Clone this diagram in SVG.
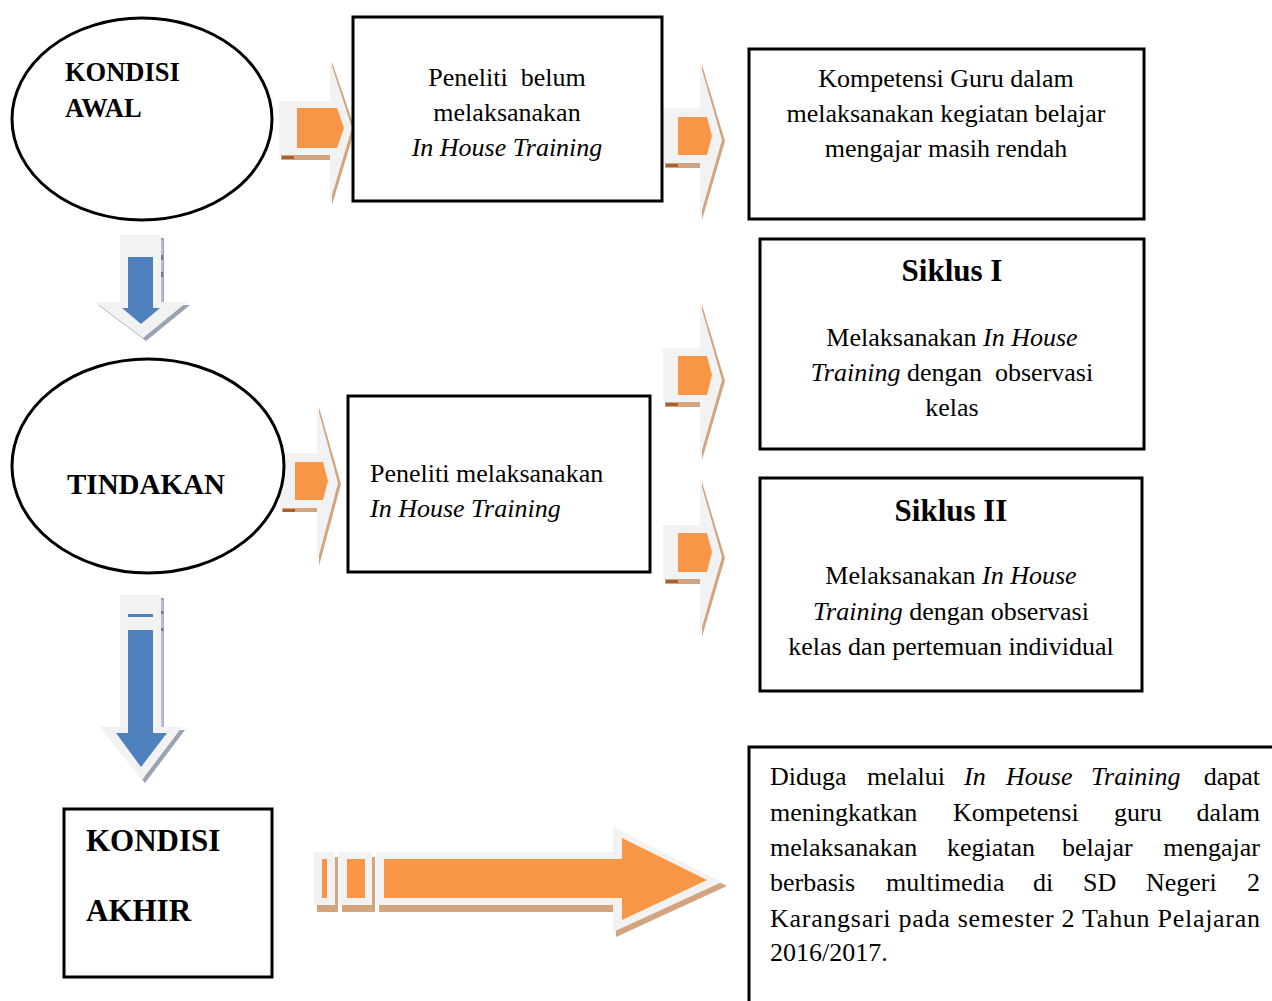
<svg xmlns="http://www.w3.org/2000/svg" width="1272" height="1001" viewBox="0 0 1272 1001">
<style>
.box{fill:#fff;stroke:#000;stroke-width:3}
.t{font-family:"Liberation Serif","Times New Roman",serif;font-size:26px;fill:#000}
.c{text-anchor:middle}
.b{font-weight:bold}
.i{font-style:italic}
.gray{fill:#f2f2f2}
.org{fill:#f79646}
.brn{fill:#d3a47e}
.dbrn{fill:#a8602e}
.blue{fill:#4f81bd}
.bsh{fill:#9aa3b3}
</style>
<rect width="1272" height="1001" fill="#fff"/>
<g id="connectors">
  <!-- arrow ellipse1 -> box1 -->
  <g id="arr1">
    <polygon class="brn" points="281,103 332,103 332,62 355,129 332,205 332,160 281,160"/>
    <polygon class="gray" points="279,101 330,101 330,60 352,128 330,202 330,155 279,155"/>
    <rect class="dbrn" x="282" y="156" width="12" height="3"/>
    <polygon class="org" points="297,108 337,108 344,128 337,148 297,148"/>
  </g>
  <!-- arrow box1 -> box2 -->
  <g id="arr2">
    <polygon class="brn" points="665,110 702,110 702,65 725,141 702,220 702,168 665,168"/>
    <polygon class="gray" points="663,108 700,108 700,63 722,140 700,217 700,163 663,163"/>
    <rect class="dbrn" x="666" y="164" width="12" height="3"/>
    <polygon class="org" points="678,117 707,117 712,136 707,155 678,155"/>
  </g>
  <!-- arrow -> Siklus I -->
  <g id="arr3">
    <polygon class="brn" points="665,350 702,350 702,305 725,381 702,460 702,407 665,407"/>
    <polygon class="gray" points="663,348 700,348 700,303 722,380 700,457 700,402 663,402"/>
    <rect class="dbrn" x="666" y="403" width="12" height="3"/>
    <polygon class="org" points="678,356 707,356 712,375 707,395 678,395"/>
  </g>
  <!-- arrow -> Siklus II -->
  <g id="arr4">
    <polygon class="brn" points="665,527 702,527 702,482 725,558 702,637 702,584 665,584"/>
    <polygon class="gray" points="663,525 700,525 700,480 722,557 700,634 700,579 663,579"/>
    <rect class="dbrn" x="666" y="580" width="12" height="3"/>
    <polygon class="org" points="678,533 707,533 712,552 707,572 678,572"/>
  </g>
  <!-- arrow ellipse2 -> box5 -->
  <g id="arr5">
    <polygon class="brn" points="282,455 319,455 319,407 341,484 319,566 319,512 282,512"/>
    <polygon class="gray" points="280,453 317,453 317,405 338,483 317,563 317,508 280,508"/>
    <rect class="dbrn" x="283" y="509" width="12" height="3"/>
    <polygon class="org" points="295,462 323,462 328,481 323,500 295,500"/>
  </g>
  <!-- down arrow 1 -->
  <g id="darr1">
    <polygon class="bsh" points="123,238 164,238 164,305 190,305 146,341 98,305 123,305"/>
    <polygon class="gray" points="120,235 161,235 161,302 187,302 143,338 95,302 120,302"/>
    <rect x="161" y="240" width="2" height="62" fill="#b8bfcc"/>
    <rect x="161" y="255" width="2" height="5" fill="#6f7a8c"/>
    <rect x="161" y="272" width="2" height="5" fill="#6f7a8c"/>
    <polygon class="blue" points="128,257 153,257 153,308 160,308 141,324 122,308 128,308"/>
  </g>
  <!-- down arrow 2 -->
  <g id="darr2">
    <polygon class="bsh" points="123,598 164,598 164,730 185,730 145,783 103,730 123,730"/>
    <polygon class="gray" points="120,595 161,595 161,727 182,727 142,780 100,727 120,727"/>
    <rect x="161" y="600" width="2.5" height="127" fill="#b8bfcc"/>
    <rect x="161" y="611" width="2.5" height="3" fill="#6f7a8c"/>
    <rect x="161" y="628" width="2.5" height="3" fill="#6f7a8c"/>
    <rect class="blue" x="128" y="614" width="25" height="3"/>
    <polygon class="blue" points="128,630 153,630 153,733 167,733 141,767 116,733 128,733"/>
  </g>
  <!-- big bottom arrow -->
  <g id="bigarr">
    <rect class="brn" x="317" y="857" width="21" height="55"/>
    <rect class="brn" x="342" y="857" width="33" height="55"/>
    <polygon class="brn" points="379,857 616,857 616,832 727,886 616,937 616,912 379,912"/>
    <rect class="gray" x="314" y="852" width="21" height="53"/>
    <rect class="gray" x="339" y="852" width="33" height="53"/>
    <polygon class="gray" points="376,852 613,852 613,827 722,882 613,932 613,905 376,905"/>
    <rect class="org" x="322" y="859" width="5" height="39"/>
    <rect class="org" x="347" y="859" width="18" height="39"/>
    <polygon class="org" points="384,859 622,859 622,838 707,880 622,920 622,898 384,898"/>
  </g>
</g>
<g id="kondisi-awal">
  <ellipse cx="142" cy="119" rx="130" ry="101" fill="#fff" stroke="#000" stroke-width="3"/>
  <text class="t b" x="65" y="81" style="font-size:26.5px">KONDISI</text>
  <text class="t b" x="65" y="117" style="font-size:26.5px">AWAL</text>
</g>
<g id="box-belum">
  <rect class="box" x="353" y="17" width="309" height="184"/>
  <text class="t c" x="507" y="86" xml:space="preserve">Peneliti  belum</text>
  <text class="t c" x="507" y="121">melaksanakan</text>
  <text class="t c i" x="507" y="156">In House Training</text>
</g>
<g id="box-kompetensi">
  <rect class="box" x="749" y="49" width="395" height="170"/>
  <text class="t c" x="946" y="87">Kompetensi Guru dalam</text>
  <text class="t c" x="946" y="122">melaksanakan kegiatan belajar</text>
  <text class="t c" x="946" y="157">mengajar masih rendah</text>
</g>
<g id="siklus1">
  <rect class="box" x="760" y="239" width="384" height="210"/>
  <text class="t c b" x="952" y="281" style="font-size:31px">Siklus I</text>
  <text class="t c" x="952" y="346">Melaksanakan <tspan class="i">In House</tspan></text>
  <text class="t c" x="952" y="381" xml:space="preserve"><tspan class="i">Training</tspan> dengan  observasi</text>
  <text class="t c" x="952" y="416">kelas</text>
</g>
<g id="tindakan">
  <ellipse cx="148" cy="466" rx="136" ry="107" fill="#fff" stroke="#000" stroke-width="3"/>
  <text class="t b" x="67" y="494" style="font-size:29px">TINDAKAN</text>
</g>
<g id="box-melaksanakan">
  <rect class="box" x="348" y="396" width="302" height="176"/>
  <text class="t" x="370" y="482">Peneliti melaksanakan</text>
  <text class="t i" x="370" y="517">In House Training</text>
</g>
<g id="siklus2">
  <rect class="box" x="760" y="478" width="382" height="213"/>
  <text class="t c b" x="951" y="521" style="font-size:31px">Siklus II</text>
  <text class="t c" x="951" y="584">Melaksanakan <tspan class="i">In House</tspan></text>
  <text class="t c" x="951" y="620"><tspan class="i">Training</tspan> dengan observasi</text>
  <text class="t c" x="951" y="655">kelas dan pertemuan individual</text>
</g>
<g id="kondisi-akhir">
  <rect class="box" x="64" y="809" width="208" height="168"/>
  <text class="t b" x="86" y="851" style="font-size:31px">KONDISI</text>
  <text class="t b" x="86" y="921" style="font-size:31px">AKHIR</text>
</g>
<g id="box-hipotesis">
  <rect class="box" x="749" y="747" width="600" height="300"/>
  <text class="t" y="785"><tspan x="770">Diduga</tspan><tspan x="867">melalui</tspan><tspan class="i" x="964">In</tspan><tspan class="i" x="1006">House</tspan><tspan class="i" x="1091">Training</tspan></text>
  <text class="t" x="1260" y="785" text-anchor="end">dapat</text>
  <text class="t" y="821"><tspan x="770">meningkatkan</tspan><tspan x="953">Kompetensi</tspan><tspan x="1114">guru</tspan></text>
  <text class="t" x="1260" y="821" text-anchor="end">dalam</text>
  <text class="t" y="856"><tspan x="770">melaksanakan</tspan><tspan x="947">kegiatan</tspan><tspan x="1062">belajar</tspan></text>
  <text class="t" x="1260" y="856" text-anchor="end">mengajar</text>
  <text class="t" y="891"><tspan x="770">berbasis</tspan><tspan x="886">multimedia</tspan><tspan x="1033">di</tspan><tspan x="1083">SD</tspan><tspan x="1146">Negeri</tspan></text>
  <text class="t" x="1260" y="891" text-anchor="end">2</text>
  <text class="t" x="770" y="927" textLength="490" lengthAdjust="spacing">Karangsari pada semester 2 Tahun Pelajaran</text>
  <text class="t" x="770" y="961">2016/2017.</text>
</g>
</svg>
